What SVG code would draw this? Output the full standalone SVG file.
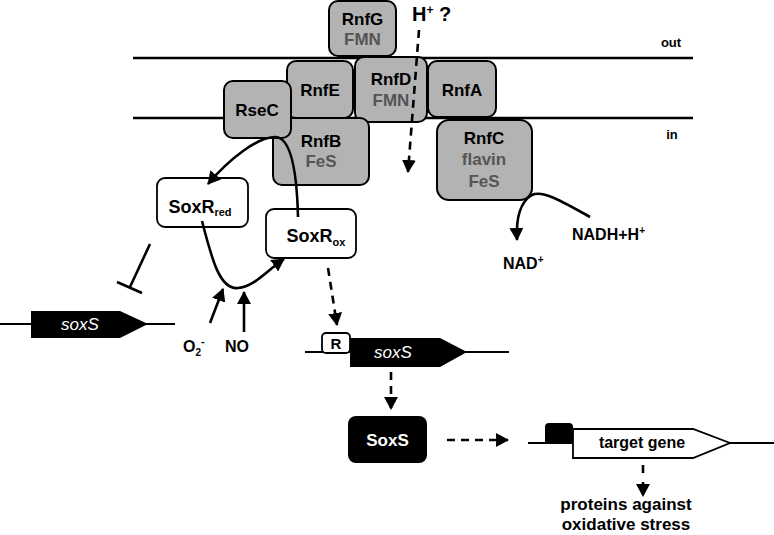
<svg xmlns="http://www.w3.org/2000/svg" width="774" height="535" viewBox="0 0 774 535">
<defs>
<style>
text{font-family:"Liberation Sans",Arial,sans-serif;font-weight:bold;text-anchor:middle;}
.t{font-size:17px;fill:#000;}
.g{font-size:17px;fill:#555;}
.box{fill:#b3b3b3;stroke:#000;stroke-width:2;}
.wbox{fill:#fff;stroke:#000;stroke-width:1.8;}
.mem{stroke:#000;stroke-width:2.5;}
.con{fill:none;stroke:#000;stroke-width:2.6;}
.dash{fill:none;stroke:#000;stroke-width:2.6;stroke-dasharray:8 6;}
.gi{font-style:italic;font-weight:normal;fill:#fff;font-size:17px;}
.lab{font-size:16px;}
</style>
<marker id="ah" markerWidth="14" markerHeight="14" refX="12" refY="7" orient="auto" markerUnits="userSpaceOnUse">
<path d="M0,0 L13,7 L0,14 Z" fill="#000"/>
</marker>
</defs>

<line class="mem" x1="133" y1="58" x2="693" y2="58"/>
<line class="mem" x1="133" y1="118" x2="693" y2="118"/>
<text x="671" y="47" style="font-size:13px">out</text>
<text x="672" y="139" style="font-size:13px">in</text>

<g id="RnfG"><rect class="box" x="329" y="1" width="67" height="55" rx="9"/>
<text class="t" x="362.5" y="25">RnfG</text><text class="g" x="362.5" y="45">FMN</text></g>
<g id="RnfE"><rect class="box" x="287" y="61" width="66" height="57" rx="9"/>
<text class="t" x="320" y="96">RnfE</text></g>
<g id="RnfD"><rect class="box" x="355" y="57" width="72" height="65" rx="9"/>
<text class="t" x="391" y="85">RnfD</text><text class="g" x="391" y="106">FMN</text></g>
<g id="RnfA"><rect class="box" x="428" y="61" width="68" height="56" rx="9"/>
<text class="t" x="462" y="96">RnfA</text></g>
<g id="RnfB"><rect class="box" x="273" y="118" width="96" height="67" rx="9"/>
<text class="t" x="321" y="147">RnfB</text><text class="g" x="321" y="167">FeS</text></g>
<g id="RseC"><rect class="box" x="224" y="81" width="67" height="57" rx="9"/>
<text class="t" x="257" y="116">RseC</text></g>
<g id="RnfC"><rect class="box" x="437" y="120" width="95" height="80" rx="12"/>
<text class="t" x="484" y="144">RnfC</text><text class="g" x="484" y="165">flavin</text><text class="g" x="484" y="187">FeS</text></g>

<g id="Hplus"><text x="412" y="21" style="font-size:20px;text-anchor:start">H<tspan dy="-7" style="font-size:12px">+</tspan><tspan dy="7"> ?</tspan></text></g>

<g id="SoxRred"><rect class="wbox" x="157" y="178" width="91" height="49" rx="8"/>
<text x="200" y="213" style="font-size:18px;text-anchor:middle">SoxR<tspan dy="3" style="font-size:11px">red</tspan></text></g>
<g id="SoxRox"><rect class="wbox" x="266" y="209" width="90" height="49" rx="8"/>
<text x="316" y="242" style="font-size:18px">SoxR<tspan dy="4" style="font-size:11px">ox</tspan></text></g>

<g id="geneLeft">
<line x1="0" y1="324" x2="175" y2="324" stroke="#000" stroke-width="2"/>
<polygon points="31,311 120,311 148,324 120,338 31,338" fill="#000"/>
<text class="gi" x="80" y="330">soxS</text></g>

<g id="geneMid">
<line x1="305" y1="352" x2="509" y2="352" stroke="#000" stroke-width="2"/>
<polygon points="350,338 440,338 467,352 440,367 350,367" fill="#000"/>
<rect x="322" y="333" width="28" height="20" rx="4" fill="#fff" stroke="#000" stroke-width="1.8"/>
<text x="336" y="349" style="font-size:15px">R</text>
<text class="gi" x="393" y="358">soxS</text></g>

<g id="SoxS"><rect x="348" y="416" width="79" height="47" rx="8" fill="#000"/>
<text x="387.5" y="446" style="font-size:17px;fill:#fff">SoxS</text></g>

<g id="targetGene">
<line x1="528" y1="443" x2="774" y2="443" stroke="#000" stroke-width="2"/>
<path d="M545,443 L545,427 Q545,423 549,423 L569,423 Q573,423 573,427 L573,443 Z" fill="#000"/>
<polygon points="573,429 693,429 730,443 693,458 573,458" fill="#fff" stroke="#000" stroke-width="1.8"/>
<text x="642" y="448" style="font-size:16px">target gene</text></g>

<g id="proteins"><text x="626" y="510" style="font-size:17px">proteins against</text>
<text x="626" y="530" style="font-size:17px">oxidative stress</text></g>

<g id="labels">
<text x="183" y="352" style="font-size:16px;text-anchor:start">O<tspan dy="4" style="font-size:10px">2</tspan><tspan dy="-11" style="font-size:11px">-</tspan></text>
<text x="237" y="352" class="lab">NO</text>
<text x="572" y="240" class="lab" style="text-anchor:start">NADH+H<tspan dy="-6" style="font-size:10px">+</tspan></text>
<text x="503" y="269" class="lab" style="text-anchor:start">NAD<tspan dy="-6" style="font-size:10px">+</tspan></text>
</g>

<g id="connectors">
<path class="dash" d="M419,30 L408,172" marker-end="url(#ah)"/>
<path class="con" d="M298,217 C297,175 292,137 275,137 C258,137 230,158 208,184" marker-end="url(#ah)"/>
<path class="con" d="M202,221 C212,260 220,290 238,288 C255,286 265,272 284,259" marker-end="url(#ah)"/>
<path class="con" d="M210,323 L223,289" marker-end="url(#ah)"/>
<path class="con" d="M244,332 L244,292" marker-end="url(#ah)"/>
<path class="con" d="M150,244 L130,287 M117,282 L142,293"/>
<path class="con" d="M590,217 C560,200 542,190 532,195 C520,202 516,220 517,240" marker-end="url(#ah)"/>
<path class="dash" d="M328,268 L337,325" marker-end="url(#ah)"/>
<path class="dash" d="M391,372 L391,409" marker-end="url(#ah)"/>
<path class="dash" d="M447,440 L508,440" marker-end="url(#ah)"/>
<path class="dash" d="M643,465 L643,496" marker-end="url(#ah)" style="stroke-dasharray:8 9"/>
</g>
</svg>
